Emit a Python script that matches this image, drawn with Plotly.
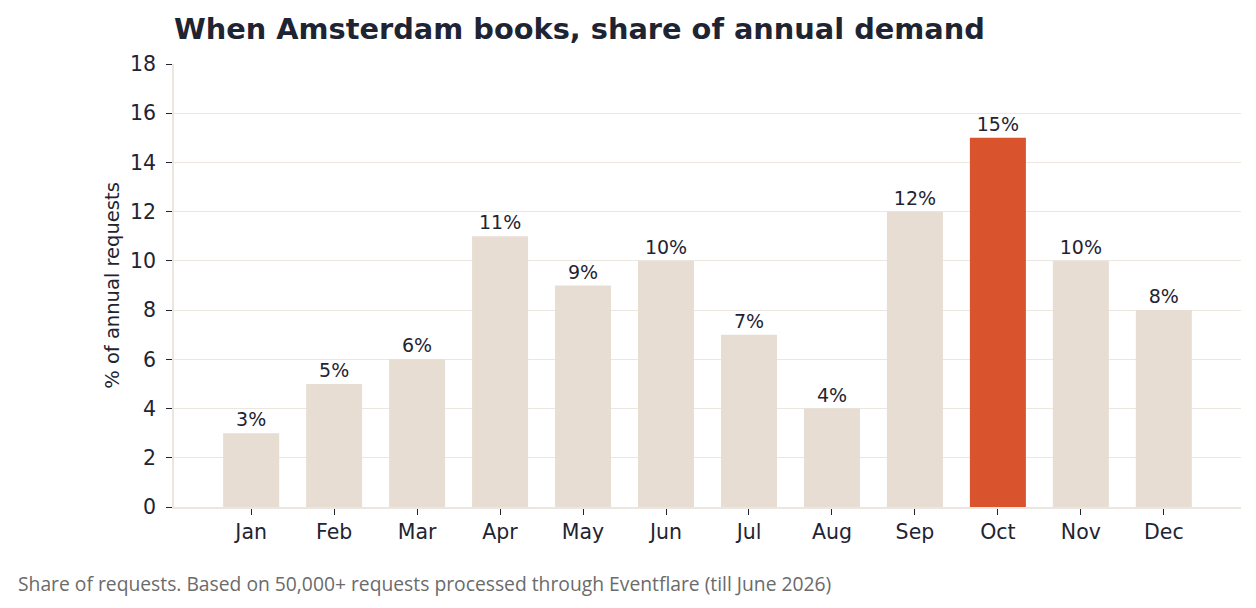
import plotly.graph_objects as go

months = ["Jan", "Feb", "Mar", "Apr", "May", "Jun", "Jul", "Aug", "Sep", "Oct", "Nov", "Dec"]
shares = [3, 5, 6, 11, 9, 10, 7, 4, 12, 15, 10, 8]
highlight_month = "Oct"
y_ticks = [0, 2, 4, 6, 8, 10, 12, 14, 16, 18]

base_color = "#e7ddd3"
hi_color = "#d9532c"
dark = "#1f2433"
grid = "#ebe6df"

colors = [hi_color if m == highlight_month else base_color for m in months]
labels = [f"{v}%" for v in shares]

fig = go.Figure(go.Bar(
    x=months, y=shares, marker=dict(color=colors, line=dict(width=0)),
    text=labels, textposition="outside", cliponaxis=False,
    textfont=dict(family="DejaVu Sans", size=19, color=dark),
    width=0.675,
))

fig.update_layout(
    width=1256, height=608,
    margin=dict(l=174, r=15, t=64, b=101),
    paper_bgcolor="white", plot_bgcolor="white",
    showlegend=False,
    title=dict(text="<b>When Amsterdam books, share of annual demand</b>",
               x=174/1256, xanchor="left", y=1-29/608, yanchor="middle",
               font=dict(family="DejaVu Sans", size=28.8, color=dark)),
    font=dict(family="DejaVu Sans", color=dark),
)
fig.update_xaxes(
    range=[-0.93, 11.93], showgrid=False,
    showline=True, linecolor=grid, linewidth=1.5,
    ticks="outside", ticklen=6, tickcolor=dark, tickwidth=1.2,
    tickfont=dict(family="DejaVu Sans", size=20.5, color=dark),
)
fig.update_yaxes(
    range=[0, 18], tickvals=y_ticks, showgrid=True, gridcolor=grid, gridwidth=1.2,
    showline=True, linecolor=grid, linewidth=1.5, zeroline=False,
    ticks="outside", ticklen=6, tickcolor=dark, tickwidth=1.2, ticklabelstandoff=6,
    tickfont=dict(family="DejaVu Sans", size=20.5, color=dark),
    title=dict(text="% of annual requests", font=dict(family="DejaVu Sans", size=19.5, color=dark), standoff=5),
)
fig.add_annotation(
    text="Share of requests. Based on 50,000+ requests processed through Eventflare (till June 2026)",
    xref="paper", yref="paper", x=(16-174)/1067, y=-(583-507)/443, xanchor="left", yanchor="middle",
    showarrow=False, font=dict(family="Open Sans", size=19.3, color="#6b6b6b"),
)
fig.write_html("out.html")
